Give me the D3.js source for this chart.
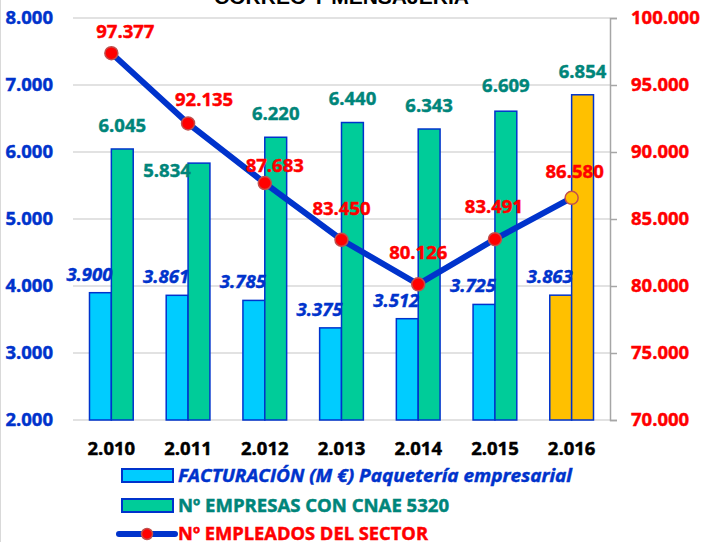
<!DOCTYPE html>
<html>
<head>
<meta charset="utf-8">
<script src="https://cdn.jsdelivr.net/npm/d3@7"></script>
<style>
  body { margin: 0; background: #fff; }
  svg { display: block; font-family: "Open Sans", sans-serif; font-weight: bold; }
  .heavy { stroke-width: 0.45px; }
</style>
</head>
<body>
<svg width="701" height="542"></svg>
<script>
// data
const years = ["2.010", "2.011", "2.012", "2.013", "2.014", "2.015", "2.016"];
const facturacion = [3900, 3861, 3785, 3375, 3512, 3725, 3863];
const empresas = [6045, 5834, 6220, 6440, 6343, 6609, 6854];
const empleados = [97377, 92135, 87683, 83450, 80126, 83491, 86580];
const leftTicks = [2000, 3000, 4000, 5000, 6000, 7000, 8000];
const rightTicks = [70000, 75000, 80000, 85000, 90000, 95000, 100000];

// hand placed label nudges (dx, dy) like in the original
const redNudge = [[14, -15], [16, -17], [10, -11], [0, -25], [0, -25], [-1, -26], [3, -20]];
const greenNudge = [[0, -17], [-32, 14], [0, -17], [0, -18], [0, -17], [0, -19], [0, -17]];

const blue = "#0033cc", red = "#ff0000", teal = "#00857a";
const cyan = "#00ccff", green = "#00cc99", gold = "#ffc000";

const fmt = d3.formatLocale({decimal: ",", thousands: ".", grouping: [3], currency: ["", "€"]}).format(",.0f");

const svg = d3.select("svg");
const margin = {left: 73, right: 91, top: 18, bottom: 122};
const width = 701, height = 542;

const x = d3.scaleBand().domain(years)
    .range([margin.left, width - margin.right])
    .paddingInner(0.43).paddingOuter(0.215);
const yL = d3.scaleLinear().domain([2000, 8000]).range([height - margin.bottom, margin.top]);
const yR = d3.scaleLinear().domain([70000, 100000]).range([height - margin.bottom, margin.top]);
const bw = x.bandwidth() / 2;

// makes Open Sans look a bit heavier, closer to the original
function heavy(sel, col) {
    sel.attr("stroke", col).attr("class", "heavy");
}

// chart border on the left
svg.append("line").attr("x1", 0.5).attr("x2", 0.5).attr("y1", 0).attr("y2", height)
    .attr("stroke", "#d9d9d9");

// title (cut at the top)
svg.append("text")
    .attr("x", (margin.left + width - margin.right) / 2).attr("y", 4)
    .attr("text-anchor", "middle")
    .style("font-family", "'Liberation Sans', Arial, sans-serif")
    .style("font-size", "21px")
    .text("CORREO Y MENSAJERIA");

// gridlines
svg.append("g").selectAll("line").data(leftTicks).join("line")
    .attr("x1", margin.left).attr("x2", width - margin.right)
    .attr("y1", d => yL(d)).attr("y2", d => yL(d))
    .attr("stroke", "#d9d9d9").attr("stroke-width", 1.5);

// left axis
const gl = svg.append("g").attr("transform", `translate(${margin.left},0)`)
    .call(d3.axisLeft(yL).tickValues(leftTicks).tickFormat(fmt).tickSize(0).tickPadding(20));
gl.select(".domain").remove();
gl.selectAll("text").attr("fill", blue).style("font-size", "18.5px").style("font-family", "'Open Sans'")
    .call(heavy, blue);

// right axis
const gr = svg.append("g").attr("transform", `translate(${width - margin.right},0)`)
    .call(d3.axisRight(yR).tickValues(rightTicks).tickFormat(fmt).tickSize(7).tickSizeOuter(7).tickPadding(14));
gr.select(".domain").attr("stroke", "#a6a6a6").attr("stroke-width", 1.5);
gr.selectAll(".tick line").attr("stroke", "#a6a6a6").attr("stroke-width", 1.5);
gr.selectAll("text").attr("fill", red).style("font-size", "18.5px").style("font-family", "'Open Sans'")
    .call(heavy, red);

// x labels
svg.append("g").selectAll("text").data(years).join("text")
    .attr("x", d => x(d) + x.bandwidth() / 2).attr("y", 455)
    .attr("text-anchor", "middle").style("font-size", "18.5px").attr("fill", "#000")
    .text(d => d)
    .call(heavy, "#000");

const last = years.length - 1;

// bars
svg.append("g").selectAll("rect").data(facturacion).join("rect")
    .attr("x", (d, i) => x(years[i]))
    .attr("y", d => yL(d))
    .attr("width", bw)
    .attr("height", d => yL(2000) - yL(d))
    .attr("fill", (d, i) => i === last ? gold : cyan)
    .attr("stroke", blue).attr("stroke-width", 1.5);

svg.append("g").selectAll("rect").data(empresas).join("rect")
    .attr("x", (d, i) => x(years[i]) + bw)
    .attr("y", d => yL(d))
    .attr("width", bw)
    .attr("height", d => yL(2000) - yL(d))
    .attr("fill", (d, i) => i === last ? gold : green)
    .attr("stroke", blue).attr("stroke-width", 1.5);

// line
const cx = (d, i) => x(years[i]) + x.bandwidth() / 2;
const line = d3.line().x(cx).y(d => yR(d));
svg.append("path").datum(empleados)
    .attr("d", line).attr("fill", "none")
    .attr("stroke", blue).attr("stroke-width", 6);

svg.append("g").selectAll("circle").data(empleados).join("circle")
    .attr("cx", cx).attr("cy", d => yR(d)).attr("r", 6.5)
    .attr("fill", (d, i) => i === last ? gold : red)
    .attr("stroke", "#c0504d").attr("stroke-width", 1.5);

// value labels
svg.append("g").selectAll("text").data(facturacion).join("text")
    .attr("x", (d, i) => x(years[i]) + bw / 2 - 11)
    .attr("y", d => yL(d) - 12)
    .attr("text-anchor", "middle")
    .attr("fill", blue).style("font-style", "italic").style("font-size", "18.5px")
    .text(fmt)
    .call(heavy, blue);

svg.append("g").selectAll("text").data(empresas).join("text")
    .attr("x", (d, i) => x(years[i]) + bw * 1.5 + greenNudge[i][0])
    .attr("y", (d, i) => yL(d) + greenNudge[i][1])
    .attr("text-anchor", "middle")
    .attr("fill", teal).style("font-size", "18.5px")
    .text(fmt)
    .call(heavy, teal);

svg.append("g").selectAll("text").data(empleados).join("text")
    .attr("x", (d, i) => cx(d, i) + redNudge[i][0])
    .attr("y", (d, i) => yR(d) + redNudge[i][1])
    .attr("text-anchor", "middle")
    .attr("fill", red).style("font-size", "18.5px")
    .text(fmt)
    .call(heavy, red);

// legend
const lx = 122, tx = 178;
const legend = svg.append("g");
legend.append("rect").attr("x", lx).attr("y", 469).attr("width", 51).attr("height", 13)
    .attr("fill", cyan).attr("stroke", blue).attr("stroke-width", 2);
legend.append("text").attr("x", tx).attr("y", 482)
    .attr("fill", blue).style("font-style", "italic").style("font-size", "18px")
    .attr("textLength", 394).attr("lengthAdjust", "spacingAndGlyphs")
    .text("FACTURACIÓN (M €) Paquetería empresarial")
    .call(heavy, blue);

legend.append("rect").attr("x", lx).attr("y", 499).attr("width", 51).attr("height", 13)
    .attr("fill", green).attr("stroke", blue).attr("stroke-width", 2);
legend.append("text").attr("x", tx).attr("y", 512)
    .attr("fill", teal).style("font-size", "17.5px")
    .attr("textLength", 271).attr("lengthAdjust", "spacingAndGlyphs")
    .text("Nº EMPRESAS CON CNAE 5320")
    .call(heavy, teal);

legend.append("line").attr("x1", 119).attr("x2", 175).attr("y1", 534).attr("y2", 534)
    .attr("stroke", blue).attr("stroke-width", 6).attr("stroke-linecap", "round");
legend.append("circle").attr("cx", 147).attr("cy", 534).attr("r", 5.5)
    .attr("fill", red).attr("stroke", "#c0504d").attr("stroke-width", 1.5);
legend.append("text").attr("x", tx).attr("y", 540)
    .attr("fill", red).style("font-size", "17.5px")
    .attr("textLength", 250).attr("lengthAdjust", "spacingAndGlyphs")
    .text("Nº EMPLEADOS DEL SECTOR")
    .call(heavy, red);
</script>
</body>
</html>
